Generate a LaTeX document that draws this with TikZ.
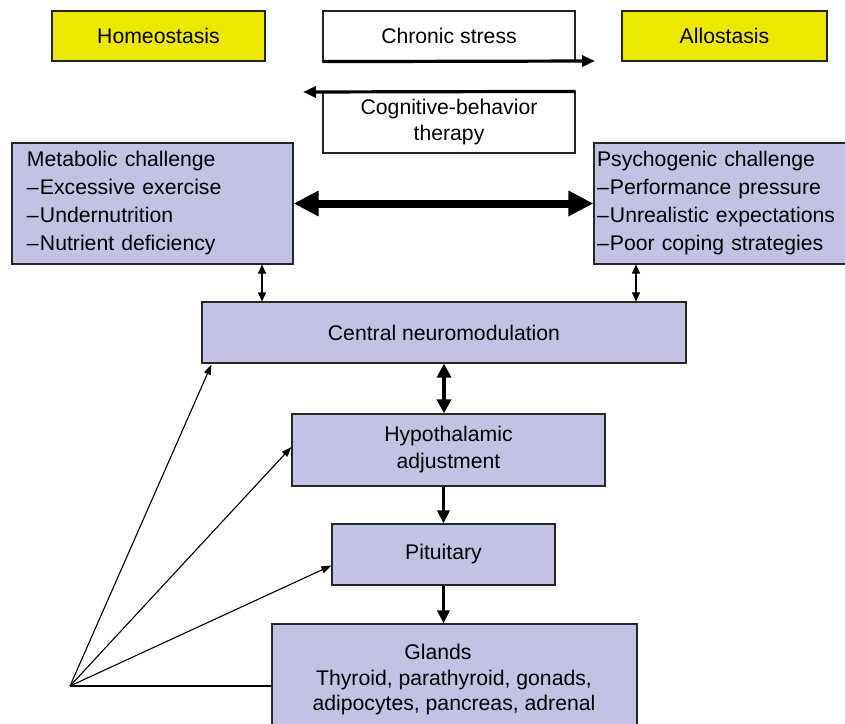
\documentclass[tikz,border=0pt]{standalone}
\usepackage{fontspec}
\setmainfont{Liberation Sans}
\usetikzlibrary{arrows.meta,calc}
\definecolor{lav}{RGB}{194,194,226}
\definecolor{yel}{RGB}{238,232,0}
\newcommand{\dsh}{–\kern1.2pt}
\begin{document}
\begin{tikzpicture}[x=1pt,y=-1pt,
  font=\fontsize{21.2}{28}\selectfont,
  box/.style={draw=black!85, line width=1.2pt, inner sep=0pt, align=center},
  ybox/.style={box, fill=yel},
  wbox/.style={box, fill=white},
  lbox/.style={box, fill=lav},
  bigarrow/.style={line width=3.2pt, -{Triangle[length=13pt,width=11pt]}},
  dblarrow/.style={line width=8pt, {Triangle[length=25pt,width=24pt]}-{Triangle[length=25pt,width=24pt]}},
  thinarrow/.style={line width=1.2pt, {Triangle[length=9pt,width=8pt]}-{Triangle[length=9pt,width=8pt]}},
  vdbl/.style={line width=3.2pt, {Triangle[length=14pt,width=14pt]}-{Triangle[length=14pt,width=14pt]}},
  varrow/.style={line width=3.2pt, -{Triangle[length=13pt,width=12pt]}},
  fanarrow/.style={line width=1.1pt, -{Triangle[length=10pt,width=7pt]}}
]
\useasboundingbox (0,0) rectangle (845,723);
\fill[white] (0,0) rectangle (845,723);

\node[ybox, minimum width=213, minimum height=50] (homeo) at (158.5,36) {Homeostasis};
\node[wbox, minimum width=252, minimum height=50] (cs) at (449,36) {Chronic stress};
\node[ybox, minimum width=205, minimum height=50] (allo) at (724.5,36) {Allostasis};
\node[wbox, minimum width=252, minimum height=61, font=\fontsize{21.2}{26}\selectfont] (cbt) at (449,122.5) {Cognitive-behavior\\therapy};

\node[lbox, align=left, minimum width=281, minimum height=121, text width=251] (met) at (152.5,203.5)
  {\raisebox{0pt}[\height][\depth]{Metabolic challenge}\\\dsh Excessive exercise\\\dsh Undernutrition\\\dsh Nutrient deficiency};
\node[lbox, align=left, minimum width=256, minimum height=121, text width=250] (psy) at (722,203.5)
  {Psychogenic challenge\\\dsh Performance pressure\\\dsh Unrealistic expectations\\\dsh Poor coping strategies};

\node[lbox, minimum width=484, minimum height=61] (cn) at (444,332.5) {Central neuromodulation};
\node[lbox, minimum width=313, minimum height=72, font=\fontsize{21.2}{27}\selectfont] (hyp) at (448.5,450) {Hypothalamic\\adjustment};
\node[lbox, minimum width=223, minimum height=61] (pit) at (443.5,554.5) {Pituitary};
\node[lbox, minimum width=365, minimum height=140] (gl) at (454.5,694) {};
\node[align=center, inner sep=0pt, font=\fontsize{21.2}{25.5}\selectfont] (gltxt) at (454,680)
  {Glands\hspace*{32pt}\\Thyroid, parathyroid, gonads,\\adipocytes, pancreas, adrenal};

\coordinate (csend) at (595,61);
\coordinate (cbtend) at (303,92);
\coordinate (fan) at (70,686);

\draw[bigarrow] (cs.south west) -- (csend);
\draw[bigarrow] (cbt.north east) -- (cbtend);
\draw[dblarrow] (met.east) -- (psy.west);
\draw[thinarrow] (met.south -| 262,0) -- (cn.north -| 262,0);
\draw[thinarrow] (psy.south -| 636,0) -- (cn.north -| 636,0);
\draw[vdbl] (cn.south) -- (cn.south |- hyp.north);
\draw[varrow] (hyp.south -| pit.north) -- (pit.north);
\draw[varrow] (pit.south) -- (pit.south |- gl.north);
\draw[fanarrow] (fan) -- ($(cn.south west)+(10,1)$);
\draw[fanarrow] (fan) -- ($(hyp.west)+(0,-3)$);
\draw[fanarrow] (fan) -- ($(pit.west)+(0,11)$);
\draw[line width=1.1pt] (fan) -- (fan -| gl.west);
\end{tikzpicture}
\end{document}
